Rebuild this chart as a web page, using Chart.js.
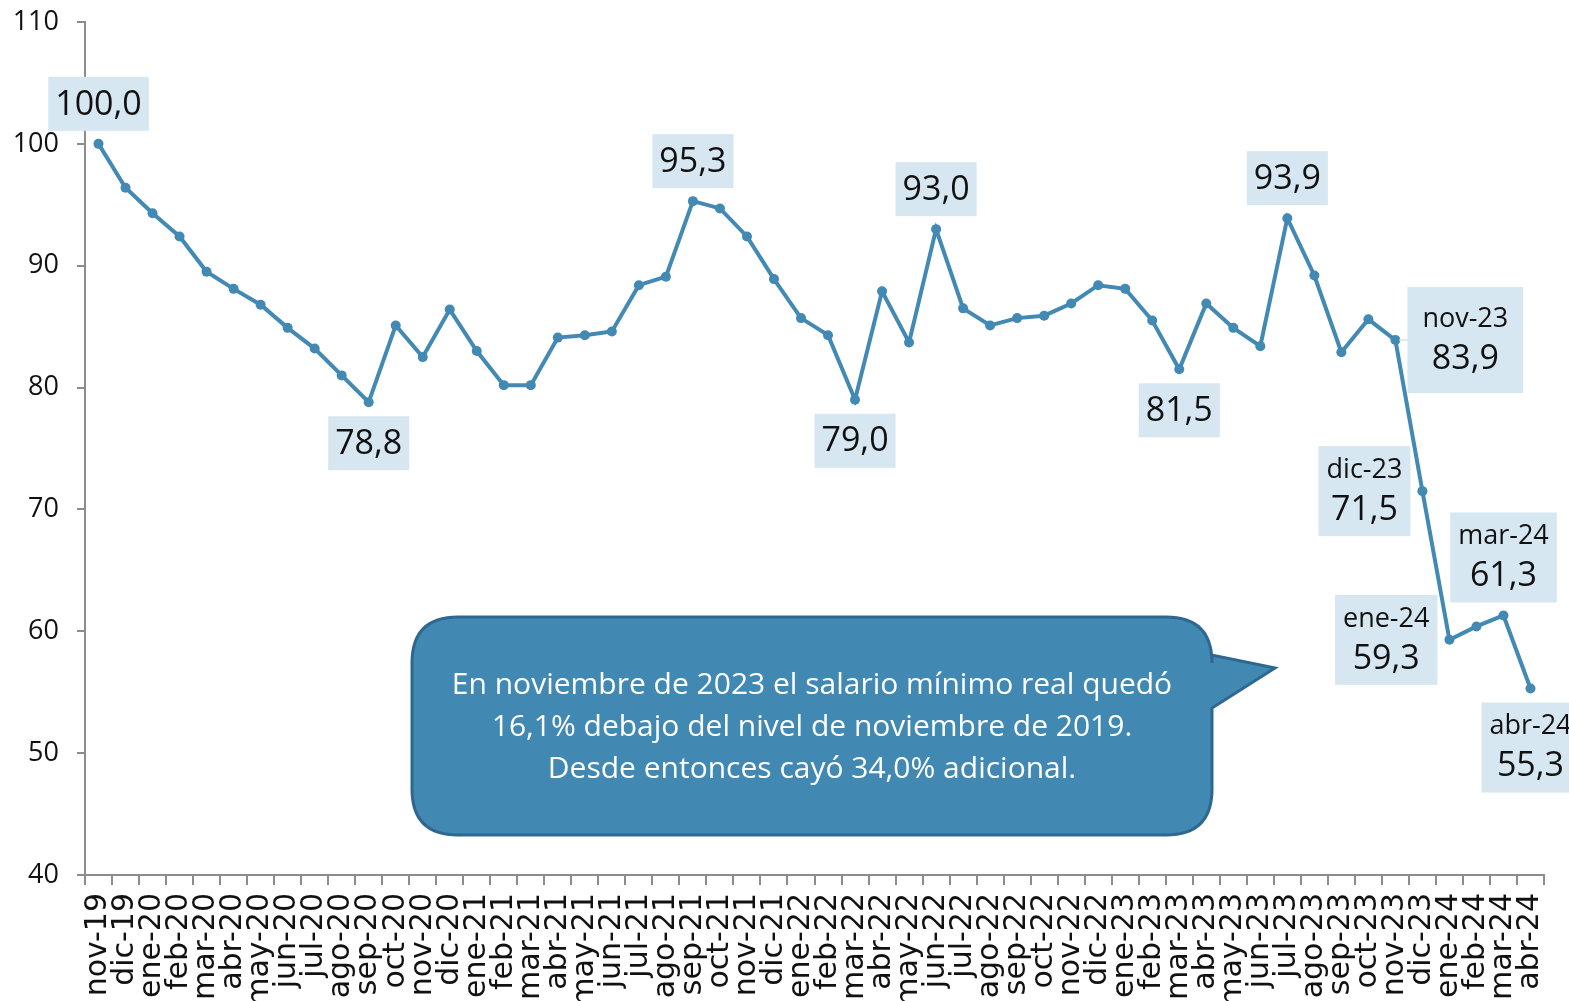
<!DOCTYPE html>
<html lang="es">
<head>
<meta charset="utf-8">
<title>Salario mínimo real</title>
<script src="https://cdn.jsdelivr.net/npm/chart.js@4.4.1/dist/chart.umd.min.js"></script>
<style>
	html, body { margin: 0; padding: 0; background: #fff; }
	#wrap { width: 1569px; height: 1001px; position: relative; }
</style>
</head>
<body>
<div id="wrap"><canvas id="grafico"></canvas></div>
<script>
	// Meses (nov-19 a abr-24)
	const meses = [
		'nov-19', 'dic-19',
		'ene-20', 'feb-20', 'mar-20', 'abr-20', 'may-20', 'jun-20', 'jul-20', 'ago-20', 'sep-20', 'oct-20', 'nov-20', 'dic-20',
		'ene-21', 'feb-21', 'mar-21', 'abr-21', 'may-21', 'jun-21', 'jul-21', 'ago-21', 'sep-21', 'oct-21', 'nov-21', 'dic-21',
		'ene-22', 'feb-22', 'mar-22', 'abr-22', 'may-22', 'jun-22', 'jul-22', 'ago-22', 'sep-22', 'oct-22', 'nov-22', 'dic-22',
		'ene-23', 'feb-23', 'mar-23', 'abr-23', 'may-23', 'jun-23', 'jul-23', 'ago-23', 'sep-23', 'oct-23', 'nov-23', 'dic-23',
		'ene-24', 'feb-24', 'mar-24', 'abr-24'
	];

	// Índice salario mínimo real (nov-19 = 100)
	const salarioReal = [
		100.0, 96.4,
		94.3, 92.4, 89.5, 88.1, 86.8, 84.9, 83.2, 81.0, 78.8, 85.1, 82.5, 86.4,
		83.0, 80.2, 80.2, 84.1, 84.3, 84.6, 88.4, 89.1, 95.3, 94.7, 92.4, 88.9,
		85.7, 84.3, 79.0, 87.9, 83.7, 93.0, 86.5, 85.1, 85.7, 85.9, 86.9, 88.4,
		88.1, 85.5, 81.5, 86.9, 84.9, 83.4, 93.9, 89.2, 82.9, 85.6, 83.9, 71.5,
		59.3, 60.4, 61.3, 55.3
	];

	// Eje Y
	const ejeYMin = 40;
	const ejeYMax = 110;
	const ejeYPaso = 10;

	// Etiquetas destacadas: mes, posición y si muestran el nombre del mes
	const etiquetasMes = ['nov-19', 'sep-20', 'sep-21', 'mar-22', 'jun-22', 'mar-23', 'jul-23', 'nov-23', 'dic-23', 'ene-24', 'mar-24', 'abr-24'];
	const etiquetasLado = ['above', 'below', 'above', 'below', 'above', 'below', 'above', 'right', 'left', 'left', 'above', 'below'];
	const etiquetasConMes = [false, false, false, false, false, false, false, true, true, true, true, true];

	const textoNota = [
		'En noviembre de 2023 el salario mínimo real quedó',
		'16,1% debajo del nivel de noviembre de 2019.',
		'Desde entonces cayó 34,0% adicional.'
	];

	const AZUL = '#4289b4';
	const FONDO_ETIQ = '#d7e7f1';
	const FUENTE = '"Open Sans", "Noto Sans", sans-serif';

	const fmt = v => v.toFixed(1).replace('.', ',');

	// Cajas de etiquetas de datos
	const etiquetasPlugin = {
		id: 'etiquetas',
		afterDatasetsDraw(chart) {
			const ctx = chart.ctx;
			const meta = chart.getDatasetMeta(0);
			ctx.save();
			etiquetasMes.forEach((mes, k) => {
				const i = meses.indexOf(mes);
				const pt = meta.data[i];
				const conMes = etiquetasConMes[k];
				const lado = etiquetasLado[k];
				const valor = fmt(salarioReal[i]);

				ctx.font = '34px ' + FUENTE;
				const wVal = ctx.measureText(valor).width;
				ctx.font = '27px ' + FUENTE;
				const wMes = conMes ? ctx.measureText(mes).width : 0;
				// la caja de nov-23 es algo más holgada en el original
				const ancha = lado === 'right';
				const w = Math.max(wVal, wMes) + (conMes ? (ancha ? 30 : 16) : 14);
				const h = conMes ? (ancha ? 106 : 90) : 54;

				let x, y;
				if (lado === 'above') { x = pt.x - w / 2; y = pt.y - 13 - h; }
				else if (lado === 'below') { x = pt.x - w / 2; y = pt.y + 14; }
				else if (lado === 'left') { x = pt.x - 12 - w; y = pt.y - h / 2; }
				else { x = pt.x + 12; y = pt.y - h / 2; }

				if (lado === 'right') {
					ctx.strokeStyle = '#e6e6e6';
					ctx.lineWidth = 2;
					ctx.beginPath();
					ctx.moveTo(pt.x + 4, pt.y);
					ctx.lineTo(x, pt.y);
					ctx.stroke();
				}

				ctx.fillStyle = FONDO_ETIQ;
				ctx.fillRect(x, y, w, h);
				ctx.fillStyle = '#111';
				ctx.textAlign = 'center';
				ctx.textBaseline = 'middle';
				if (conMes) {
					const off = ancha ? 8 : 0;
					ctx.font = '27px ' + FUENTE;
					ctx.fillText(mes, x + w / 2, y + 24 + off);
					ctx.font = '34px ' + FUENTE;
					ctx.fillText(valor, x + w / 2, y + 64 + off);
				} else {
					ctx.font = '34px ' + FUENTE;
					ctx.fillText(valor, x + w / 2, y + h / 2 + 1);
				}
			});
			ctx.restore();
		}
	};

	// Globo con el comentario
	const notaPlugin = {
		id: 'nota',
		afterDraw(chart) {
			const ctx = chart.ctx;
			const x0 = 412, y0 = 617, x1 = 1212, y1 = 835, r = 46;
			ctx.save();
			ctx.beginPath();
			ctx.moveTo(x0 + r, y0);
			ctx.lineTo(x1 - r, y0);
			ctx.quadraticCurveTo(x1, y0, x1, y0 + r);
			ctx.lineTo(x1, 655);
			ctx.lineTo(1275, 668);
			ctx.lineTo(x1, 708);
			ctx.lineTo(x1, y1 - r);
			ctx.quadraticCurveTo(x1, y1, x1 - r, y1);
			ctx.lineTo(x0 + r, y1);
			ctx.quadraticCurveTo(x0, y1, x0, y1 - r);
			ctx.lineTo(x0, y0 + r);
			ctx.quadraticCurveTo(x0, y0, x0 + r, y0);
			ctx.closePath();
			ctx.fillStyle = '#4189b3';
			ctx.fill();
			ctx.lineWidth = 3;
			ctx.strokeStyle = '#2e6890';
			ctx.stroke();

			ctx.fillStyle = '#fff';
			ctx.font = '30px ' + FUENTE;
			ctx.textAlign = 'center';
			ctx.textBaseline = 'middle';
			textoNota.forEach((linea, i) => {
				ctx.fillText(linea, 812, 685 + i * 42);
			});
			ctx.restore();
		}
	};

	new Chart(document.getElementById('grafico'), {
		type: 'line',
		data: {
			labels: meses,
			datasets: [{
				label: 'Salario mínimo real',
				data: salarioReal,
				borderColor: AZUL,
				backgroundColor: AZUL,
				borderWidth: 4,
				pointRadius: 5,
				pointBackgroundColor: AZUL,
				pointBorderWidth: 0,
				tension: 0
			}]
		},
		options: {
			responsive: true,
			maintainAspectRatio: false,
			animation: false,
			layout: { padding: { top: 22, right: 25, left: 0, bottom: 0 } },
			plugins: {
				legend: { display: false },
				tooltip: { enabled: false }
			},
			scales: {
				x: {
					offset: true,
					grid: { offset: true, drawOnChartArea: false, tickLength: 10, color: '#8c8c8c', lineWidth: 2 },
					border: { color: '#8c8c8c', width: 2 },
					ticks: {
						autoSkip: false,
						minRotation: 90,
						maxRotation: 90,
						padding: 8,
						color: '#111',
						font: { family: '"DejaVu Sans", sans-serif', size: 30 }
					},
					// altura fija del eje y sin relleno lateral por las etiquetas giradas
					afterFit(scale) {
						scale.height = 126;
						scale.paddingLeft = 0;
						scale.paddingRight = 0;
					}
				},
				y: {
					min: ejeYMin,
					max: ejeYMax,
					grid: { drawOnChartArea: false, tickLength: 8, color: '#8c8c8c', lineWidth: 2 },
					border: { color: '#8c8c8c', width: 2 },
					ticks: {
						stepSize: ejeYPaso,
						padding: 18,
						color: '#111',
						font: { family: FUENTE, size: 27 }
					},
					afterFit(scale) {
						scale.width = 85;
						scale.paddingTop = 0;
						scale.paddingBottom = 0;
					}
				}
			}
		},
		plugins: [etiquetasPlugin, notaPlugin]
	});
</script>
</body>
</html>
